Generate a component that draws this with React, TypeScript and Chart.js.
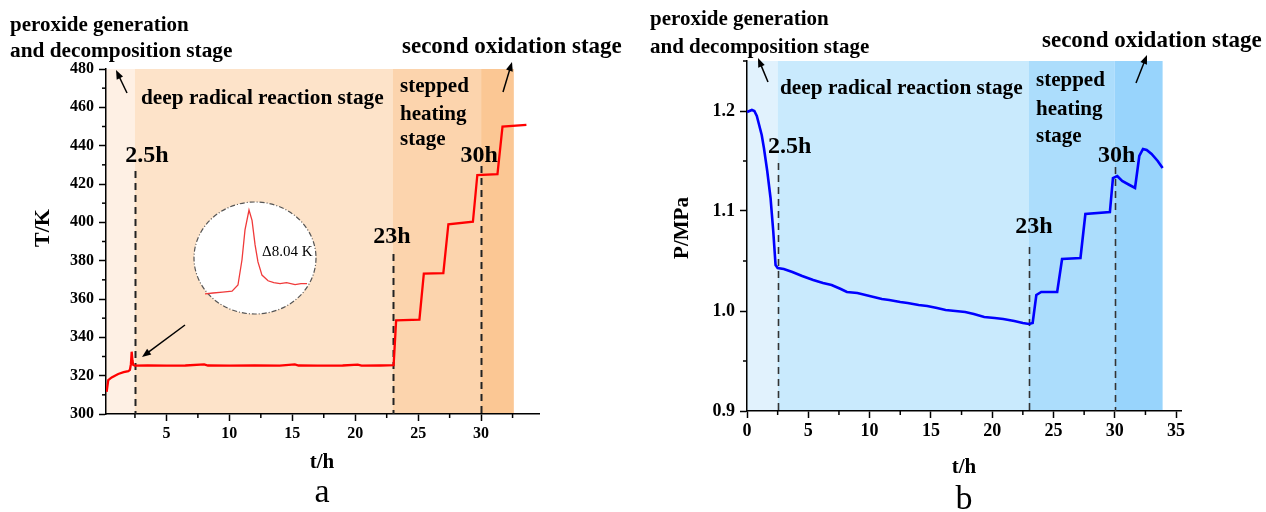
import React, { useEffect, useRef } from "react";
import { Chart, registerables } from "chart.js";
Chart.register(...registerables);

// ---------- Panel a: temperature ----------
const tempTimes = [0.25, 0.38, 0.65, 1.17, 1.6, 1.97, 2.1, 2.18, 2.24, 2.3, 2.37, 2.5, 3.5, 5, 6.5, 8, 8.3, 10, 12, 14, 15.2, 15.5, 17, 19, 20.2, 20.5, 22, 23.05, 23.25, 25.1, 25.45, 27.0, 27.4, 29.35, 29.7, 31.3, 31.7, 33.6];
const tempValues = [311.6, 317.7, 319.1, 320.9, 321.8, 322.4, 323.0, 326.0, 332.5, 328.0, 325.6, 325.2, 325.4, 325.2, 325.3, 325.9, 325.3, 325.2, 325.3, 325.2, 325.9, 325.3, 325.2, 325.3, 325.8, 325.2, 325.3, 325.5, 348.8, 349.2, 373.2, 373.5, 399.0, 400.3, 424.7, 425.2, 449.9, 450.8];
const tempXLabels = [5, 10, 15, 20, 25, 30];
const tempXMinor = [2.5, 7.5, 12.5, 17.5, 22.5, 27.5, 32.5];
const tempYLabels = [300, 320, 340, 360, 380, 400, 420, 440, 460, 480];
const tempYMinor = [310, 330, 350, 370, 390, 410, 430, 450, 470];
const tempStageBounds = [0.2, 2.5, 23, 30, 32.6];

// inset (zoom of the exotherm spike)
const insetTimes = [1.95, 2.0, 2.06, 2.119, 2.156, 2.181, 2.2, 2.225, 2.244, 2.263, 2.281, 2.306, 2.344, 2.38, 2.419, 2.46, 2.513, 2.55, 2.588];
const insetValues = [323.4, 323.5, 323.6, 323.7, 324.35, 327.0, 330.2, 332.3, 331.2, 328.6, 326.8, 325.4, 324.8, 324.6, 324.5, 324.6, 324.4, 324.5, 324.5];

// ---------- Panel b: pressure ----------
const presTimes = [0, 0.4, 0.6, 0.8, 0.97, 1.2, 1.38, 1.65, 1.92, 2.14, 2.33, 2.5, 3.0, 3.7, 4.5, 5.4, 6.2, 6.9, 7.65, 8.15, 9.0, 10.0, 11.0, 11.6, 12.5, 13.1, 14.0, 14.7, 15.5, 16.2, 17.0, 17.8, 18.5, 19.35, 20.2, 20.9, 21.8, 22.5, 23.0, 23.3, 23.6, 24.0, 25.3, 25.7, 27.2, 27.6, 29.6, 29.85, 30.2, 30.6, 31.2, 31.65, 32.0, 32.3, 32.6, 33.0, 33.5, 33.9];
const presValues = [1.199, 1.201, 1.200, 1.195, 1.187, 1.176, 1.163, 1.140, 1.113, 1.080, 1.046, 1.043, 1.042, 1.039, 1.035, 1.031, 1.028, 1.026, 1.022, 1.019, 1.018, 1.015, 1.012, 1.011, 1.009, 1.008, 1.006, 1.005, 1.003, 1.001, 1.000, 0.999, 0.997, 0.994, 0.993, 0.992, 0.990, 0.988, 0.987, 0.988, 1.016, 1.019, 1.019, 1.052, 1.053, 1.097, 1.099, 1.133, 1.135, 1.130, 1.126, 1.123, 1.155, 1.162, 1.161, 1.157, 1.150, 1.143];
const presXLabels = [0, 5, 10, 15, 20, 25, 30, 35];
const presXMinor = [2.5, 7.5, 12.5, 17.5, 22.5, 27.5, 32.5];
const presYLabels = [0.9, 1.0, 1.1, 1.2];
const presYMinor = [0.95, 1.05, 1.15, 1.25];
const presStageBounds = [0, 2.5, 23, 30, 33.9];

const markerTimes = [2.5, 23, 30];
const markerLabels = ["2.5h", "23h", "30h"];

const FAMILY = '"Liberation Serif", "Times New Roman", serif';

type Txt = { text: string; x: number; y: number; size: number; bold?: boolean; align?: CanvasTextAlign; rotate?: boolean };
type Arrow = { x1: number; y1: number; x2: number; y2: number };
type Marker = { cx: number; y: number; top: number };
type AnnotCfg = {
  bounds: number[];
  colors: string[];
  markers: Marker[];
  texts: Txt[];
  arrows: Arrow[];
  minorX: number[];
  minorY: number[];
  dash: { width: number; color: string };
  ellipse?: { cx: number; cy: number; rx: number; ry: number };
  extraTexts?: Txt[];
};

function drawText(ctx: CanvasRenderingContext2D, t: Txt) {
  ctx.save();
  ctx.font = `${t.bold === false ? "normal" : "bold"} ${t.size}px ${FAMILY}`;
  ctx.fillStyle = "#000";
  ctx.textAlign = t.align || "left";
  ctx.textBaseline = "alphabetic";
  if (t.rotate) {
    ctx.translate(t.x, t.y);
    ctx.rotate(-Math.PI / 2);
    ctx.fillText(t.text, 0, 0);
  } else {
    ctx.fillText(t.text, t.x, t.y);
  }
  ctx.restore();
}

function drawArrow(ctx: CanvasRenderingContext2D, a: Arrow) {
  const ang = Math.atan2(a.y2 - a.y1, a.x2 - a.x1);
  const hl = 9, hw = 3.5;
  ctx.save();
  ctx.strokeStyle = "#000";
  ctx.fillStyle = "#000";
  ctx.lineWidth = 1.5;
  ctx.beginPath();
  ctx.moveTo(a.x1, a.y1);
  ctx.lineTo(a.x2 - Math.cos(ang) * hl * 0.8, a.y2 - Math.sin(ang) * hl * 0.8);
  ctx.stroke();
  ctx.beginPath();
  ctx.moveTo(a.x2, a.y2);
  ctx.lineTo(a.x2 - Math.cos(ang) * hl - Math.sin(ang) * hw, a.y2 - Math.sin(ang) * hl + Math.cos(ang) * hw);
  ctx.lineTo(a.x2 - Math.cos(ang) * hl + Math.sin(ang) * hw, a.y2 - Math.sin(ang) * hl - Math.cos(ang) * hw);
  ctx.closePath();
  ctx.fill();
  ctx.restore();
}

function makeAnnot(cfg: AnnotCfg) {
  return {
    id: "annot",
    beforeDraw(chart: any) {
      const { ctx, chartArea: ca, scales } = chart;
      const x = scales.x;
      ctx.save();
      for (let i = 0; i < cfg.bounds.length - 1; i++) {
        const x1 = x.getPixelForValue(cfg.bounds[i]);
        const x2 = x.getPixelForValue(cfg.bounds[i + 1]);
        ctx.fillStyle = cfg.colors[i];
        ctx.fillRect(x1, ca.top, x2 - x1, ca.bottom - ca.top);
      }
      ctx.restore();
    },
    beforeDatasetsDraw(chart: any) {
      const { ctx, chartArea: ca, scales } = chart;
      const x = scales.x;
      ctx.save();
      ctx.strokeStyle = cfg.dash.color;
      ctx.lineWidth = cfg.dash.width;
      ctx.setLineDash([7, 5]);
      markerTimes.forEach((t, i) => {
        const px = Math.round(x.getPixelForValue(t)) + 0.5;
        ctx.beginPath();
        ctx.moveTo(px, cfg.markers[i].top);
        ctx.lineTo(px, ca.bottom);
        ctx.stroke();
      });
      ctx.restore();
    },
    afterDatasetsDraw(chart: any) {
      const { ctx } = chart;
      if (cfg.ellipse) {
        const e = cfg.ellipse;
        ctx.save();
        ctx.beginPath();
        ctx.ellipse(e.cx, e.cy, e.rx, e.ry, 0, 0, Math.PI * 2);
        ctx.fillStyle = "#fff";
        ctx.fill();
        ctx.setLineDash([5, 2, 1, 2]);
        ctx.strokeStyle = "#555";
        ctx.lineWidth = 1.2;
        ctx.stroke();
        ctx.restore();
      }
      (cfg.extraTexts || []).forEach((t) => drawText(ctx, t));
    },
    afterDraw(chart: any) {
      const { ctx, chartArea: ca, scales } = chart;
      const x = scales.x, y = scales.y;
      ctx.save();
      ctx.strokeStyle = "#000";
      ctx.lineWidth = 1.5;
      cfg.minorX.forEach((v) => {
        const px = x.getPixelForValue(v);
        ctx.beginPath();
        ctx.moveTo(px, ca.bottom);
        ctx.lineTo(px, ca.bottom + 4);
        ctx.stroke();
      });
      cfg.minorY.forEach((v) => {
        const py = y.getPixelForValue(v);
        ctx.beginPath();
        ctx.moveTo(ca.left - 4, py);
        ctx.lineTo(ca.left, py);
        ctx.stroke();
      });
      ctx.restore();
      markerTimes.forEach((t, i) => {
        const m = cfg.markers[i];
        drawText(ctx, { text: markerLabels[i], x: x.getPixelForValue(t) + m.cx, y: m.y, size: 24, align: "center" });
      });
      cfg.texts.forEach((t) => drawText(ctx, t));
      cfg.arrows.forEach((a) => drawArrow(ctx, a));
    },
  };
}

function axisCommon(size: number, pad: number) {
  return {
    grid: { display: true, drawOnChartArea: false, drawTicks: true, tickLength: 7, tickWidth: 1.5, tickColor: "#000" },
    border: { display: true, color: "#000", width: 1.5 },
    ticks: { color: "#000", padding: pad, font: { family: FAMILY, size, weight: "bold" as const } },
  };
}

function makeTempConfig(): any {
  const xa = axisCommon(16, 3);
  const ya = axisCommon(16, 5);
  return {
    type: "line",
    data: {
      datasets: [
        {
          data: tempTimes.map((t, i) => ({ x: t, y: tempValues[i] })),
          borderColor: "#ff0000",
          borderWidth: 2.3,
          pointRadius: 0,
          tension: 0,
          fill: false,
        },
      ],
    },
    options: {
      animation: false,
      responsive: false,
      devicePixelRatio: 1,
      layout: { padding: { top: 69, right: 94, left: 0, bottom: 0 } },
      plugins: { legend: { display: false }, tooltip: { enabled: false } },
      scales: {
        x: {
          type: "linear", min: 0.2, max: 34.6, ...xa,
          afterBuildTicks: (s: any) => { s.ticks = tempXLabels.map((v) => ({ value: v })); },
          afterFit: (s: any) => { s.height = 98; },
          ticks: { ...xa.ticks, callback: (v: any) => String(v) },
        },
        y: {
          type: "linear", min: 300, max: 480, ...ya,
          afterBuildTicks: (s: any) => { s.ticks = tempYLabels.map((v) => ({ value: v })); },
          afterFit: (s: any) => { s.width = 106; },
          ticks: { ...ya.ticks, callback: (v: any) => String(v) },
        },
      },
    },
    plugins: [
      makeAnnot({
        bounds: tempStageBounds,
        colors: ["#fef0e4", "#fde3c9", "#fcd4ad", "#fbc794"],
        markers: [
          { cx: 12, y: 162, top: 171 },
          { cx: -1, y: 243, top: 254 },
          { cx: -2, y: 162, top: 166 },
        ],
        texts: [
          { text: "peroxide generation", x: 10, y: 31, size: 21 },
          { text: "and decomposition stage", x: 10, y: 57, size: 21.3 },
          { text: "deep radical reaction stage", x: 141, y: 104, size: 21.3 },
          { text: "stepped", x: 400, y: 92, size: 21 },
          { text: "heating", x: 400, y: 120, size: 21 },
          { text: "stage", x: 400, y: 145, size: 21 },
          { text: "second oxidation stage", x: 402, y: 53, size: 23 },
          { text: "T/K", x: 49, y: 228, size: 22, rotate: true, align: "center" },
          { text: "t/h", x: 322, y: 468, size: 21, align: "center" },
          { text: "a", x: 322, y: 502, size: 34, bold: false, align: "center" },
        ],
        arrows: [
          { x1: 127, y1: 93, x2: 116, y2: 70 },
          { x1: 503, y1: 92, x2: 512, y2: 62 },
          { x1: 185, y1: 325, x2: 142, y2: 357 },
        ],
        minorX: tempXMinor,
        minorY: tempYMinor,
        dash: { width: 2, color: "#222" },
        ellipse: { cx: 255, cy: 258, rx: 61, ry: 56 },
        extraTexts: [{ text: "Δ8.04 K", x: 262, y: 256, size: 15, bold: false }],
      }),
    ],
  };
}

function makeInsetConfig(): any {
  return {
    type: "line",
    data: {
      datasets: [
        {
          data: insetTimes.map((t, i) => ({ x: t, y: insetValues[i] })),
          borderColor: "#f03a3a",
          borderWidth: 1.3,
          pointRadius: 0,
          tension: 0,
          fill: false,
        },
      ],
    },
    options: {
      animation: false,
      responsive: false,
      devicePixelRatio: 1,
      layout: { padding: 0 },
      plugins: { legend: { display: false }, tooltip: { enabled: false } },
      scales: {
        x: { type: "linear", min: 1.95, max: 2.6, display: false },
        y: { type: "linear", min: 322.76, max: 333.36, display: false },
      },
    },
  };
}

function makePresConfig(): any {
  const xa = axisCommon(18, 3);
  const ya = axisCommon(18, 5);
  const off = 633;
  return {
    type: "line",
    data: {
      datasets: [
        {
          data: presTimes.map((t, i) => ({ x: t, y: presValues[i] })),
          borderColor: "#0000ff",
          borderWidth: 2.6,
          pointRadius: 0,
          tension: 0,
          fill: false,
        },
      ],
    },
    options: {
      animation: false,
      responsive: false,
      devicePixelRatio: 1,
      layout: { padding: { top: 61, right: 85, left: 0, bottom: 0 } },
      plugins: { legend: { display: false }, tooltip: { enabled: false } },
      scales: {
        x: {
          type: "linear", min: 0, max: 35.4, ...xa,
          afterBuildTicks: (s: any) => { s.ticks = presXLabels.map((v) => ({ value: v })); },
          afterFit: (s: any) => { s.height = 101; },
          ticks: { ...xa.ticks, callback: (v: any) => String(v) },
        },
        y: {
          type: "linear", min: 0.9, max: 1.25, ...ya,
          afterBuildTicks: (s: any) => { s.ticks = presYLabels.map((v) => ({ value: v })); },
          afterFit: (s: any) => { s.width = 114; },
          ticks: { ...ya.ticks, callback: (v: any) => Number(v).toFixed(1) },
        },
      },
    },
    plugins: [
      makeAnnot({
        bounds: presStageBounds,
        colors: ["#e1f2fd", "#c9eafd", "#acddfc", "#98d4fc"],
        markers: [
          { cx: 12, y: 153, top: 163 },
          { cx: 5, y: 233, top: 247 },
          { cx: 2, y: 162, top: 167 },
        ],
        texts: [
          { text: "peroxide generation", x: 650 - off, y: 25, size: 21 },
          { text: "and decomposition stage", x: 650 - off, y: 53, size: 21 },
          { text: "deep radical reaction stage", x: 780 - off, y: 94, size: 21.3 },
          { text: "stepped", x: 1036 - off, y: 86, size: 21 },
          { text: "heating", x: 1036 - off, y: 115, size: 21 },
          { text: "stage", x: 1036 - off, y: 142, size: 21 },
          { text: "second oxidation stage", x: 1042 - off, y: 47, size: 23 },
          { text: "P/MPa", x: 688 - off, y: 228, size: 21, rotate: true, align: "center" },
          { text: "t/h", x: 964 - off, y: 473, size: 21, align: "center" },
          { text: "b", x: 964 - off, y: 509, size: 34, bold: false, align: "center" },
        ],
        arrows: [
          { x1: 768 - off, y1: 82, x2: 758 - off, y2: 58 },
          { x1: 1136 - off, y1: 83, x2: 1147 - off, y2: 55 },
        ],
        minorX: presXMinor,
        minorY: presYMinor,
        dash: { width: 1.6, color: "#333" },
      }),
    ],
  };
}

function ChartCanvas(props: { left: number; top: number; width: number; height: number; make: () => any }) {
  const ref = useRef<HTMLCanvasElement>(null);
  useEffect(() => {
    const chart = new Chart(ref.current as HTMLCanvasElement, props.make());
    return () => chart.destroy();
  }, []);
  return (
    <canvas
      ref={ref}
      width={props.width}
      height={props.height}
      style={{ position: "absolute", left: props.left, top: props.top, width: props.width, height: props.height }}
    />
  );
}

export default function App() {
  return (
    <div style={{ position: "absolute", left: 0, top: 0, width: 1266, height: 512, background: "#fff", overflow: "hidden" }}>
      <ChartCanvas left={0} top={0} width={633} height={512} make={makeTempConfig} />
      <ChartCanvas left={205} top={200} width={104} height={100} make={makeInsetConfig} />
      <ChartCanvas left={633} top={0} width={633} height={512} make={makePresConfig} />
    </div>
  );
}
